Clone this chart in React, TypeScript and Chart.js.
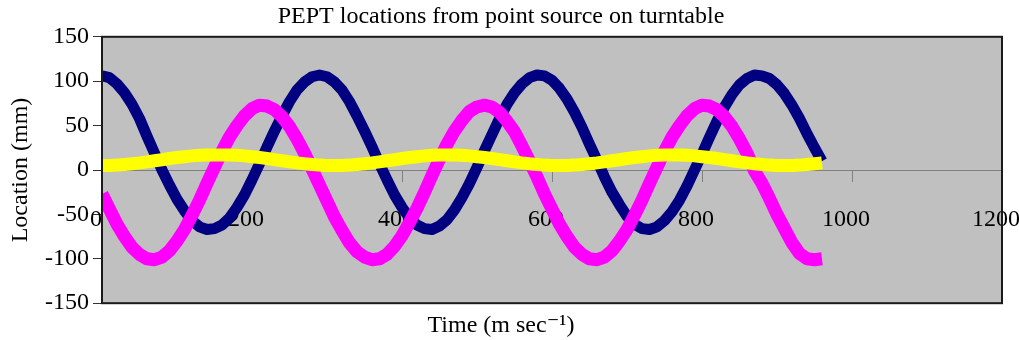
import React, { useEffect, useRef } from 'react';
import { Chart, registerables } from 'chart.js';

Chart.register(...registerables);

const chartTitle = 'PEPT locations from point source on turntable';
const xAxisTitle = 'Time (m sec\u207B\u00B9)';
const yAxisTitle = 'Location (mm)';

const xTickMin = 0;
const xTickMax = 1200;
const xTickStep = 200;
const yTickMin = -150;
const yTickMax = 150;
const yTickStep = 50;

// time of each sample (ms)
const timeMs = [
  0, 10, 20, 30, 40, 50, 60, 70, 80, 90,
  100, 110, 120, 130, 140, 150, 160, 170, 180, 190,
  200, 210, 220, 230, 240, 250, 260, 270, 280, 290,
  300, 310, 320, 330, 340, 350, 360, 370, 380, 390,
  400, 410, 420, 430, 440, 450, 460, 470, 480, 490,
  500, 510, 520, 530, 540, 550, 560, 570, 580, 590,
  600, 610, 620, 630, 640, 650, 660, 670, 680, 690,
  700, 710, 720, 730, 740, 750, 760, 770, 780, 790,
  800, 810, 820, 830, 840, 850, 860, 870, 880, 890,
  900, 910, 920, 930, 940, 950, 960,
];

// navy series (mm)
const navySeries = [
  106, 104, 97, 87, 74, 58, 38, 19, 0, -17,
  -33, -46, -57, -64, -67, -66, -62, -54, -42, -28,
  -11, 7, 26, 44, 61, 77, 90, 99, 105, 107,
  105, 99, 90, 77, 61, 44, 26, 7, -11, -28,
  -42, -54, -62, -66, -67, -63, -56, -45, -31, -15,
  3, 22, 40, 58, 74, 87, 97, 104, 107, 106,
  101, 92, 80, 65, 48, 29, 11, -8, -25, -39,
  -52, -61, -66, -67, -64, -57, -47, -34, -18, 0,
  18, 37, 55, 71, 85, 96, 103, 107, 106, 103,
  96, 86, 73, 58, 41, 25, 10,
];

// magenta series (mm)
const magentaSeries = [
  -27, -44, -61, -75, -87, -95, -100, -101, -98, -91,
  -80, -67, -51, -34, -15, 3, 21, 37, 50, 61,
  69, 73, 72, 68, 60, 49, 35, 19, 1, -17,
  -35, -53, -68, -82, -92, -98, -101, -100, -95, -86,
  -74, -59, -43, -25, -6, 12, 29, 44, 56, 66,
  71, 73, 71, 65, 55, 43, 27, 10, -8, -27,
  -44, -61, -75, -87, -95, -100, -101, -98, -91, -80,
  -67, -51, -34, -15, 3, 21, 37, 50, 61, 69,
  73, 72, 68, 60, 49, 35, 19, -1, -15, -32,
  -50, -66, -82, -94, -100, -101, -100,
];

// yellow series (mm)
const yellowSeries = [
  5, 5.1, 5.5, 6.2, 7, 8, 9.2, 10.4, 11.6, 12.9,
  14, 15, 15.9, 16.5, 16.9, 17, 17, 16.9, 16.5, 15.9,
  15, 14, 12.9, 11.6, 10.4, 9.2, 8, 7, 6.2, 5.5,
  5.1, 5, 5.1, 5.5, 6.2, 7, 8, 9.2, 10.4, 11.6,
  12.9, 14, 15, 15.9, 16.5, 16.9, 17, 16.9, 16.5, 15.9,
  15, 14, 12.9, 11.6, 10.4, 9.2, 8, 7, 6.2, 5.5,
  5.1, 5, 5.1, 5.5, 6.2, 7, 8, 9.2, 10.4, 11.6,
  12.9, 14, 15, 15.9, 16.5, 16.9, 17, 16.9, 16.5, 15.9,
  15, 14, 12.9, 11.6, 10.4, 9.2, 8, 7, 6.2, 5.5,
  5.1, 5, 5.1, 5.5, 6.2, 7, 8,
];

const FONT_FAMILY = "'Liberation Serif', 'Times New Roman', 'DejaVu Serif', serif";

const plotFrame = {
  id: 'plotFrame',
  beforeDraw(chart: any) {
    const { ctx, chartArea } = chart;
    const { left, top, right, bottom } = chartArea;
    ctx.save();
    ctx.fillStyle = '#ffffff';
    ctx.fillRect(0, 0, chart.width, chart.height);
    ctx.fillStyle = '#C0C0C0';
    ctx.fillRect(left, top, right - left, bottom - top);
    ctx.restore();
  },
  afterDraw(chart: any) {
    const { ctx, chartArea } = chart;
    const { left, top, right, bottom } = chartArea;
    ctx.save();
    ctx.strokeStyle = '#1a1a1a';
    ctx.lineWidth = 2;
    ctx.strokeRect(left, top, right - left, bottom - top);
    ctx.restore();
  },
};

export default function App() {
  const canvasRef = useRef<HTMLCanvasElement | null>(null);

  useEffect(() => {
    const canvas = canvasRef.current;
    if (!canvas) return;
    const font = { family: FONT_FAMILY, size: 24, weight: 'normal' as const };
    const toPoints = (vals: number[]) => timeMs.map((t, i) => ({ x: t, y: vals[i] }));
    const plainLabel = (v: any) => String(v);

    const chart = new Chart(canvas, {
      type: 'scatter',
      data: {
        datasets: [
          {
            label: 'Series 1',
            data: toPoints(navySeries),
            showLine: true,
            borderColor: '#000080',
            backgroundColor: '#000080',
            borderWidth: 11,
            pointRadius: 0,
            borderCapStyle: 'butt',
            borderJoinStyle: 'round',
            order: 3,
          },
          {
            label: 'Series 2',
            data: toPoints(magentaSeries),
            showLine: true,
            borderColor: '#FF00FF',
            backgroundColor: '#FF00FF',
            borderWidth: 13,
            pointRadius: 0,
            borderCapStyle: 'butt',
            borderJoinStyle: 'round',
            order: 2,
          },
          {
            label: 'Series 3',
            data: toPoints(yellowSeries),
            showLine: true,
            borderColor: '#FFFF00',
            backgroundColor: '#FFFF00',
            borderWidth: 13,
            pointRadius: 0,
            borderCapStyle: 'butt',
            borderJoinStyle: 'round',
            order: 1,
          },
        ],
      },
      options: {
        animation: false,
        responsive: false,
        devicePixelRatio: 1,
        layout: { padding: { left: 0, right: 17, top: 0, bottom: 0 } },
        plugins: {
          legend: { display: false },
          tooltip: { enabled: false },
          title: {
            display: true,
            text: chartTitle,
            color: '#000000',
            font,
            padding: { top: 2, bottom: 6 },
          },
          subtitle: {
            display: true,
            position: 'bottom',
            text: xAxisTitle,
            color: '#000000',
            font,
            padding: { top: 8, bottom: 0 },
          },
        },
        scales: {
          x: {
            type: 'linear',
            position: { y: 0 } as any,
            min: xTickMin,
            max: xTickMax,
            ticks: {
              stepSize: xTickStep,
              color: '#000000',
              font,
              padding: 24,
              maxRotation: 0,
              autoSkip: false,
              labelOffset: -6,
              callback: plainLabel,
            },
            grid: {
              drawOnChartArea: false,
              drawTicks: true,
              tickLength: 11,
              color: '#808080',
            },
            border: { display: true, color: '#808080', width: 1 },
            afterFit(scale: any) {
              scale.paddingLeft = 0;
              scale.paddingRight = 0;
            },
          },
          y: {
            type: 'linear',
            position: 'left',
            min: yTickMin,
            max: yTickMax,
            ticks: {
              stepSize: yTickStep,
              color: '#000000',
              font,
              padding: 4,
              callback: plainLabel,
            },
            grid: {
              drawOnChartArea: false,
              drawTicks: true,
              tickLength: 9,
              color: '#333333',
            },
            border: { display: true, color: '#1a1a1a', width: 2 },
            title: {
              display: true,
              text: yAxisTitle,
              color: '#000000',
              font,
              padding: { top: 6, bottom: 0 },
            },
            afterFit(scale: any) {
              scale.width = 102;
            },
          },
        },
      },
      plugins: [plotFrame],
    });

    return () => {
      chart.destroy();
    };
  }, []);

  return (
    <div style={{ position: 'absolute', left: 0, top: 0, width: 1019, height: 340, background: '#ffffff' }}>
      <canvas ref={canvasRef} width={1019} height={340} style={{ width: 1019, height: 340, display: 'block' }} />
    </div>
  );
}
